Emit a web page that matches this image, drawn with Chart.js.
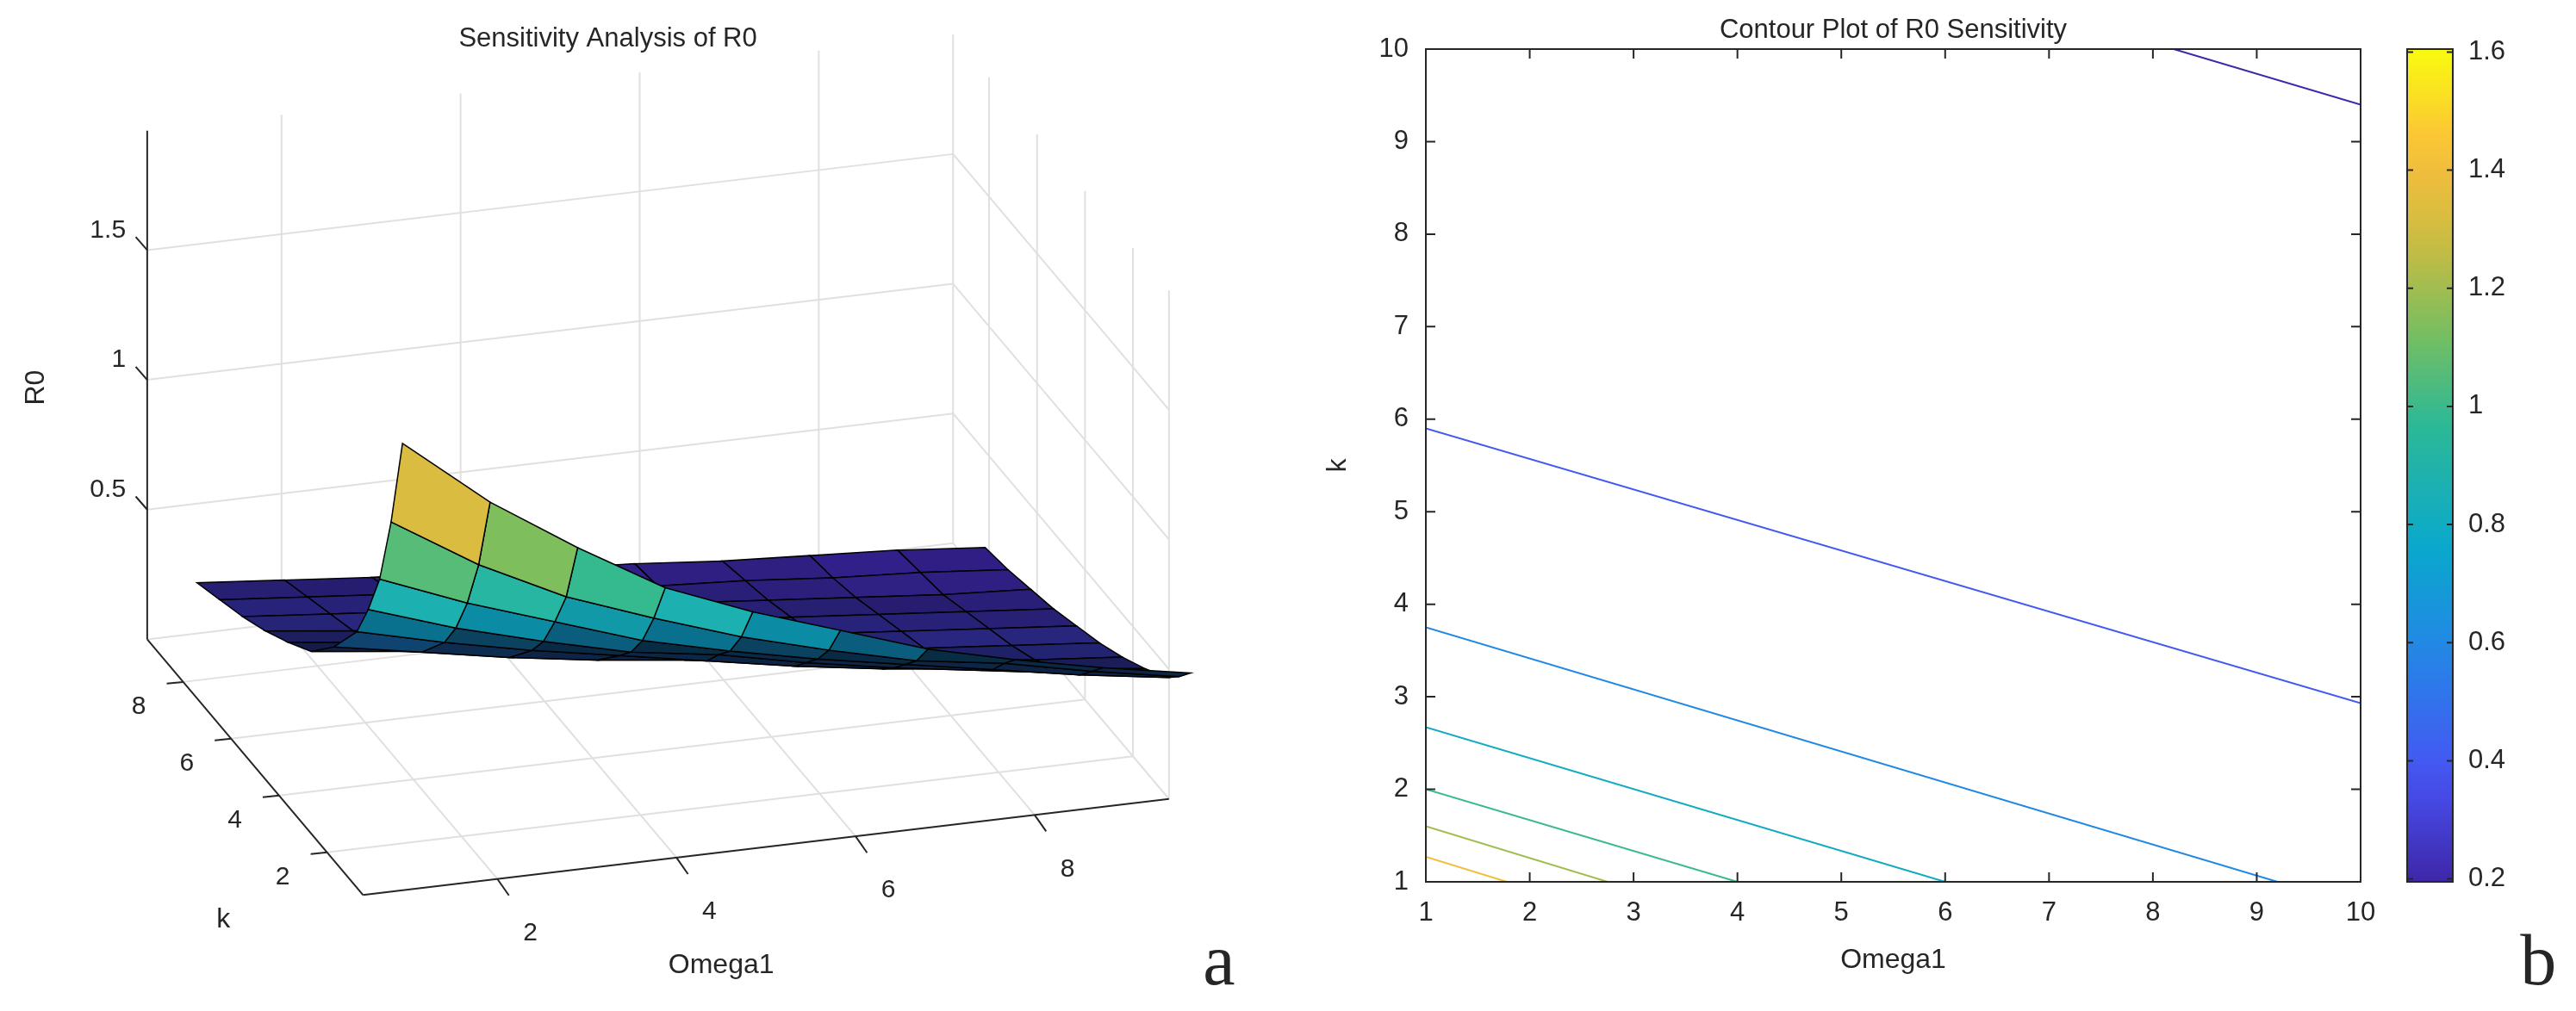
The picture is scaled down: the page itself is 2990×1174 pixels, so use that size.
<!DOCTYPE html>
<html><head><meta charset="utf-8">
<script src="https://cdn.jsdelivr.net/npm/chart.js@4/dist/chart.umd.min.js"></script>
<style>
html,body{margin:0;padding:0;background:#fff;width:2990px;height:1174px;overflow:hidden;position:relative}
canvas{position:absolute}
</style></head><body>
<canvas id="c3d" width="1450" height="1174" style="left:0;top:0;width:1450px;height:1174px"></canvas>
<canvas id="cct" width="1270" height="1174" style="left:1500px;top:0;width:1270px;height:1174px"></canvas>
<canvas id="ccb" width="210" height="1174" style="left:2780px;top:0;width:210px;height:1174px"></canvas>
<script>
// ---------- data ----------
const omegaVals = [1,2,3,4,5,6,7,8,9,10];
const kVals = [1,1.5,2,2.5,3,4,5,6,7,8,9,10];
// R0 values, one row per k value, columns follow omegaVals
const r0Grid = [
 [1.60,1.36,1.17,1.00,0.89,0.80,0.71,0.65,0.60,0.56],
 [1.26,1.08,0.94,0.84,0.75,0.68,0.62,0.59,0.54,0.50],
 [1.00,0.89,0.80,0.71,0.65,0.60,0.56,0.52,0.48,0.45],
 [0.84,0.75,0.68,0.62,0.59,0.54,0.50,0.47,0.44,0.42],
 [0.71,0.65,0.60,0.56,0.52,0.48,0.45,0.43,0.41,0.39],
 [0.56,0.52,0.48,0.45,0.43,0.41,0.39,0.37,0.35,0.34],
 [0.45,0.43,0.41,0.39,0.37,0.35,0.34,0.32,0.31,0.30],
 [0.39,0.37,0.35,0.34,0.32,0.31,0.30,0.29,0.28,0.27],
 [0.34,0.32,0.31,0.30,0.29,0.28,0.27,0.26,0.25,0.24],
 [0.30,0.29,0.28,0.27,0.26,0.25,0.24,0.23,0.22,0.22],
 [0.27,0.26,0.25,0.24,0.23,0.22,0.22,0.21,0.21,0.20],
 [0.24,0.23,0.22,0.22,0.21,0.21,0.20,0.20,0.20,0.19]
];
const omegaTicks3D = [2,4,6,8];
const kTicks3D = [2,4,6,8];
const r0Ticks3D = [0.5,1,1.5];
const contourLevels = [0.2,0.4,0.6,0.8,1.0,1.2,1.4];
const contourStart = [[8.2,10],[1,5.9],[1,3.75],[1,2.67],[1,2.0],[1,1.6],[1,1.27]];
const contourEnd   = [[10,9.4],[10,2.93],[9.2,1],[6,1],[4,1],[2.75,1],[1.78,1]];
const ctTicks = [1,2,3,4,5,6,7,8,9,10];
const colorbarTicks = [0.2,0.4,0.6,0.8,1.0,1.2,1.4,1.6];
const cMin = 0.195, cMax = 1.605;

// ---------- helpers ----------
const F = 1.907;
const TXT = '#262626';
const FONT = '"Liberation Sans", Arial, sans-serif';
const parulaStops = [
 [0.0,[62,38,168]],[0.125,[72,82,244]],[0.28,[35,135,230]],[0.40,[10,168,205]],
 [0.55,[45,185,150]],[0.66,[120,190,95]],[0.77,[205,188,65]],[0.88,[252,190,60]],[1.0,[249,251,14]]];
function parulaRGB(t){
  t=Math.max(0,Math.min(1,t));
  for(let i=1;i<parulaStops.length;i++){
    const [t1,c1]=parulaStops[i];
    if(t<=t1){const [t0,c0]=parulaStops[i-1];const u=(t-t0)/(t1-t0);
      return c0.map((v,j)=>v+(c1[j]-v)*u);}
  }
  return [249,251,14];
}
function parula(t,dark){const c=parulaRGB(t).map(v=>Math.round(v*(dark===undefined?1:dark)));return `rgb(${c.join(',')})`;}

// ---------- left: 3D surface ----------
const FL=[221,545], BW=[54.5,-6.5], BK=[-14.6,-17.3], ZU=158;
function boxPt(w,k,z){return [FL[0]+(w-0.5)*BW[0]+(k-0.5)*BK[0], FL[1]+(w-0.5)*BW[1]+(k-0.5)*BK[1]-z*ZU];}
const SO=[245,270], SW=[53.3,-3.3], SK=[-13.9,-15.2], SZ=163;
function surfPt(w,k,z){return [SO[0]+(w-1)*SW[0]+(k-1)*SK[0], SO[1]+(w-1)*SW[1]+(k-1)*SK[1]+(1.6-z)*SZ];}

const surfacePlugin={id:'surf',afterDatasetsDraw(ch){
  const ctx=ch.ctx, xs=ch.scales.x, ys=ch.scales.y;
  const P=p=>[xs.getPixelForValue(p[0]),ys.getPixelForValue(p[1])];
  const line=(a,b,col,lw)=>{const A=P(a),B=P(b);ctx.beginPath();ctx.moveTo(A[0],A[1]);ctx.lineTo(B[0],B[1]);ctx.strokeStyle=col;ctx.lineWidth=lw;ctx.stroke();};
  ctx.save();
  const G='#e0e0e0';
  omegaTicks3D.forEach(w=>line(boxPt(w,0.5,0),boxPt(w,9.5,0),G,2));
  kTicks3D.forEach(k=>line(boxPt(0.5,k,0),boxPt(9.5,k,0),G,2));
  omegaTicks3D.forEach(w=>line(boxPt(w,9.5,0),boxPt(w,9.5,1.96),G,2));
  r0Ticks3D.forEach(z=>line(boxPt(0.5,9.5,z),boxPt(9.5,9.5,z),G,2));
  line(boxPt(9.5,9.5,0),boxPt(9.5,9.5,1.96),G,2);
  kTicks3D.forEach(k=>line(boxPt(9.5,k,0),boxPt(9.5,k,1.96),G,2));
  r0Ticks3D.forEach(z=>line(boxPt(9.5,0.5,z),boxPt(9.5,9.5,z),G,2));
  line(boxPt(9.5,0.5,0),boxPt(9.5,0.5,1.96),G,2);
  line(boxPt(0.5,9.5,0),boxPt(9.5,9.5,0),G,2);
  line(boxPt(9.5,0.5,0),boxPt(9.5,9.5,0),G,2);
  const AX='#262626';
  line(boxPt(0.5,0.5,0),boxPt(9.5,0.5,0),AX,2);
  line(boxPt(0.5,0.5,0),boxPt(0.5,9.5,0),AX,2);
  line(boxPt(0.5,9.5,0),boxPt(0.5,9.5,1.96),AX,2);
  ctx.fillStyle=TXT; ctx.font=`30px ${FONT}`;
  omegaTicks3D.forEach(w=>{const a=boxPt(w,0.5,0);line(a,[a[0]+7,a[1]+10],AX,2);
    const p=P([a[0]+20,a[1]+33]);ctx.textAlign='center';ctx.textBaseline='middle';ctx.fillText(String(w),p[0],p[1]);});
  kTicks3D.forEach(k=>{const a=boxPt(0.5,k,0);line(a,[a[0]-10,a[1]+1],AX,2);
    const p=P([a[0]-27,a[1]+15]);ctx.textAlign='center';ctx.textBaseline='middle';ctx.fillText(String(k),p[0],p[1]);});
  r0Ticks3D.forEach(z=>{const a=boxPt(0.5,9.5,z);line(a,[a[0]-7,a[1]-8],AX,2);
    const p=P([a[0]-13,a[1]-12]);ctx.textAlign='right';ctx.textBaseline='middle';ctx.fillText(String(z),p[0],p[1]);});
  for(let ki=kVals.length-2;ki>=0;ki--){
    for(let wi=omegaVals.length-2;wi>=0;wi--){
      const c=[[wi,ki],[wi+1,ki],[wi+1,ki+1],[wi,ki+1]];
      const pts=c.map(([a,b])=>P(surfPt(omegaVals[a],kVals[b],r0Grid[b][a])));
      const zAvg=c.reduce((s,[a,b])=>s+r0Grid[b][a],0)/4;
      let area=0;for(let i=0;i<4;i++){const p=pts[i],q=pts[(i+1)%4];area+=p[0]*q[1]-q[0]*p[1];}
      area=Math.abs(area)/2;
      const dark=Math.max(0.3,Math.min(1,area/3500));
      ctx.beginPath();pts.forEach((p,i)=>i?ctx.lineTo(p[0],p[1]):ctx.moveTo(p[0],p[1]));ctx.closePath();
      ctx.fillStyle=parula((zAvg-cMin)/(cMax-cMin),dark);ctx.fill();
      ctx.strokeStyle='#000';ctx.lineWidth=1.5;ctx.stroke();
    }
  }
  ctx.fillStyle=TXT;ctx.textAlign='center';ctx.textBaseline='middle';
  ctx.font=`31px ${FONT}`;
  let p=P([370,24]);ctx.fillText('Sensitivity Analysis of R0',p[0],p[1]);
  ctx.font=`32px ${FONT}`;
  p=P([439,588]);ctx.fillText('Omega1',p[0],p[1]);
  p=P([136,560]);ctx.fillText('k',p[0],p[1]);
  p=P([22,236]);ctx.save();ctx.translate(p[0],p[1]);ctx.rotate(-Math.PI/2);ctx.fillText('R0',0,0);ctx.restore();
  ctx.font=`84px "Liberation Serif", serif`;
  p=P([742,588]);ctx.fillText('a',p[0],p[1]);
  ctx.restore();
}};
new Chart(document.getElementById('c3d'),{type:'scatter',data:{datasets:[{data:[]}]},
  options:{responsive:false,animation:false,devicePixelRatio:1,layout:{padding:0},
   plugins:{legend:{display:false},tooltip:{enabled:false}},
   scales:{x:{type:'linear',display:false,min:0,max:1450/F},y:{type:'linear',display:false,reverse:true,min:0,max:1174/F}}},
  plugins:[surfacePlugin]});

// ---------- right: contour ----------
const boxPlugin={id:'box',afterDraw(ch){
  const {ctx,chartArea:a}=ch;const xs=ch.scales.x,ys=ch.scales.y;
  ctx.save();ctx.strokeStyle='#262626';ctx.lineWidth=2;ctx.strokeRect(a.left,a.top,a.right-a.left,a.bottom-a.top);
  ctTicks.forEach(v=>{const x=xs.getPixelForValue(v),y=ys.getPixelForValue(v);
    ctx.beginPath();ctx.moveTo(x,a.bottom);ctx.lineTo(x,a.bottom-11);ctx.moveTo(x,a.top);ctx.lineTo(x,a.top+11);
    ctx.moveTo(a.left,y);ctx.lineTo(a.left+11,y);ctx.moveTo(a.right,y);ctx.lineTo(a.right-11,y);ctx.stroke();});
  ctx.fillStyle=TXT;ctx.font=`31px ${FONT}`;ctx.textAlign='center';ctx.textBaseline='bottom';
  ctx.fillText('Contour Plot of R0 Sensitivity',(a.left+a.right)/2,a.top-6);
  ctx.restore();}};
new Chart(document.getElementById('cct'),{type:'scatter',
  data:{datasets:contourLevels.map((lv,i)=>({label:String(lv),
    data:[{x:contourStart[i][0],y:contourStart[i][1]},{x:contourEnd[i][0],y:contourEnd[i][1]}],
    showLine:true,pointRadius:0,borderWidth:2,borderColor:parula((lv-cMin)/(cMax-cMin)),fill:false}))},
  options:{responsive:false,animation:false,devicePixelRatio:1,
   layout:{padding:{top:57,right:30,left:30,bottom:36}},
   plugins:{legend:{display:false},tooltip:{enabled:false}},
   scales:{
    x:{type:'linear',min:1,max:10,grid:{display:false},border:{display:false},
      afterBuildTicks:s=>{s.ticks=ctTicks.map(v=>({value:v}));},
      ticks:{color:TXT,font:{size:31,family:FONT},padding:10,maxRotation:0},
      title:{display:true,text:'Omega1',color:TXT,font:{size:32,family:FONT},padding:{top:0}},
      afterFit:s=>{s.height=114;}},
    y:{type:'linear',min:1,max:10,grid:{display:false},border:{display:false},
      afterBuildTicks:s=>{s.ticks=ctTicks.map(v=>({value:v}));},
      ticks:{color:TXT,font:{size:31,family:FONT},padding:12},
      title:{display:true,text:'k',color:TXT,font:{size:32,family:FONT},padding:{bottom:4}},
      afterFit:s=>{s.width=125;}}}},
  plugins:[boxPlugin]});

// ---------- colorbar ----------
const cbPlugin={id:'cb',beforeDatasetsDraw(ch){
  const {ctx,chartArea:a}=ch;const ys=ch.scales.y;
  ctx.save();
  const g=ctx.createLinearGradient(0,ys.getPixelForValue(cMin),0,ys.getPixelForValue(cMax));
  for(let i=0;i<=20;i++){g.addColorStop(i/20,parula(i/20));}
  ctx.fillStyle=g;ctx.fillRect(a.left,a.top,a.right-a.left,a.bottom-a.top);
  ctx.strokeStyle='#262626';ctx.lineWidth=2;ctx.strokeRect(a.left,a.top,a.right-a.left,a.bottom-a.top);
  colorbarTicks.forEach(v=>{const y=ys.getPixelForValue(v);ctx.beginPath();
    ctx.moveTo(a.left,y);ctx.lineTo(a.left+7,y);ctx.moveTo(a.right,y);ctx.lineTo(a.right-7,y);ctx.stroke();});
  ctx.fillStyle=TXT;ctx.font=`84px "Liberation Serif", serif`;ctx.textAlign='center';ctx.textBaseline='middle';
  ctx.fillText('b',1545*F-2780,588*F);
  ctx.restore();}};
new Chart(document.getElementById('ccb'),{type:'scatter',data:{datasets:[{data:[]}]},
  options:{responsive:false,animation:false,devicePixelRatio:1,
   layout:{padding:{top:57,left:14,bottom:150,right:0}},
   plugins:{legend:{display:false},tooltip:{enabled:false}},
   scales:{x:{display:false,min:0,max:1},
     y:{position:'right',min:cMin,max:cMax,grid:{display:false},border:{display:false},
      afterBuildTicks:s=>{s.ticks=colorbarTicks.map(v=>({value:v}));},
      ticks:{color:TXT,font:{size:31,family:FONT},padding:10,callback:v=>String(Math.round(v*10)/10)},
      afterFit:s=>{s.width=143;}}}},
  plugins:[cbPlugin]});
</script></body></html>
